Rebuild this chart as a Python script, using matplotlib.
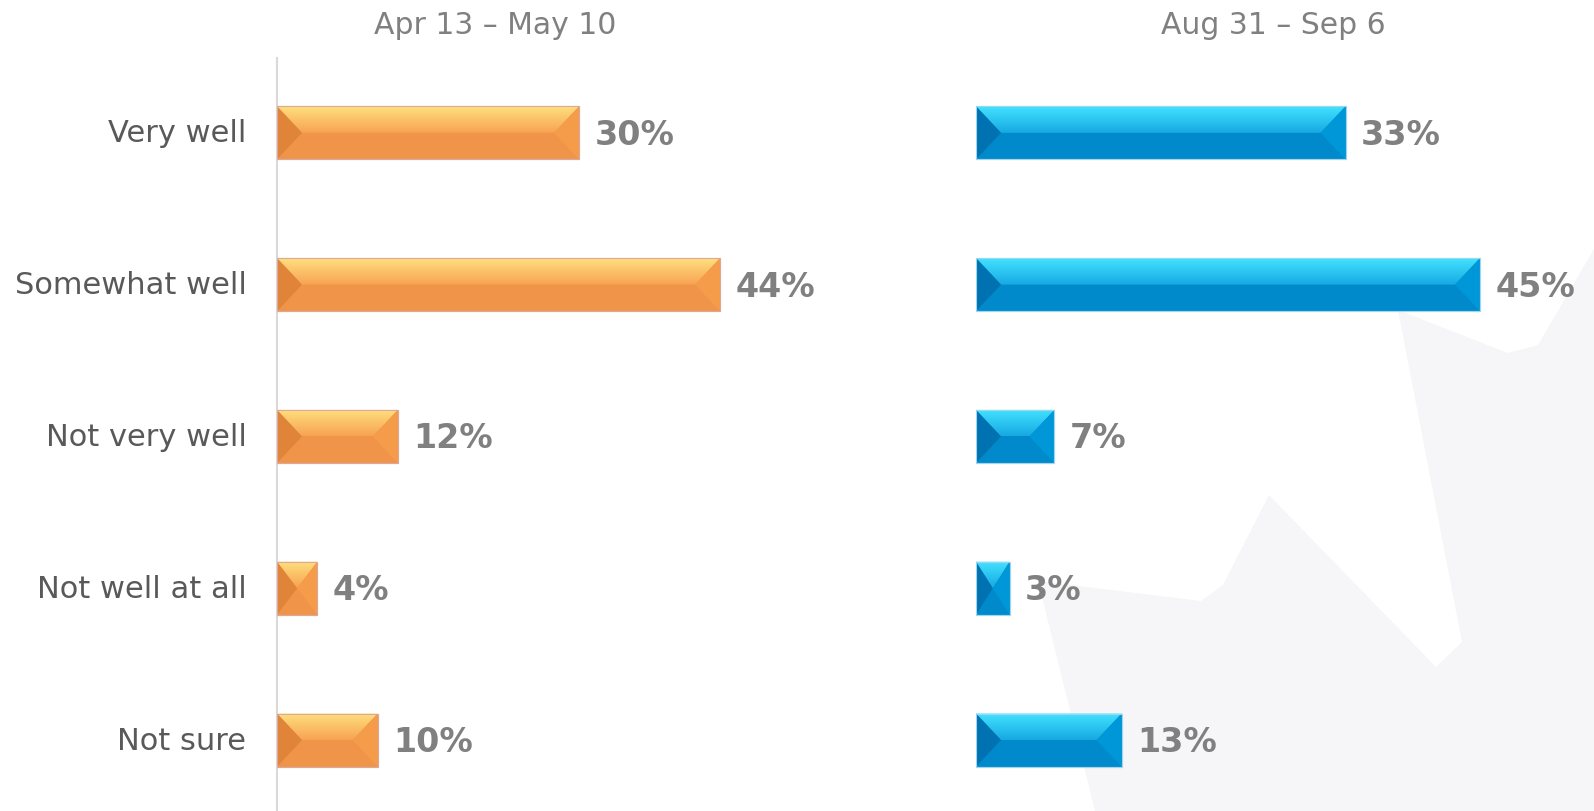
import matplotlib.pyplot as plt
import matplotlib.transforms as mtransforms
import numpy as np
from matplotlib.patches import Polygon
from matplotlib.colors import LinearSegmentedColormap

plt.rcParams['font.family'] = ['DejaVu Sans']

categories = ['Very well', 'Somewhat well', 'Not very well', 'Not well at all', 'Not sure']
apr_may = [30, 44, 12, 4, 10]
aug_sep = [33, 45, 7, 3, 13]
period_titles = ['Apr 13 – May 10', 'Aug 31 – Sep 6']

# bevel colours: base, top-light, top-mid, left face, right face, edge
orange = dict(base='#f0944a', top='#ffe07e', mid='#f7a352', left='#e0843a', right='#f59c4a', edge='#dca89a')
blue = dict(base='#008acc', top='#42e2ff', mid='#17a9e2', left='#0072b2', right='#0097d8', edge='#9fd6ee')

W, H = 1594, 812
fig = plt.figure(figsize=(W / 100, H / 100), dpi=100)

# faint maple leaf in the background
leaf = [(1594, 250), (1538, 346), (1508, 354), (1398, 311), (1462, 643), (1436, 668),
        (1269, 496), (1223, 586), (1201, 602), (1038, 582), (1095, 812), (1594, 812)]
fig.patches.append(Polygon([(x / W, 1 - y / H) for x, y in leaf], closed=True,
                           transform=fig.transFigure, facecolor='#f6f6f8',
                           edgecolor='none', zorder=-10))

ylim = (4.467, -0.493)
bar_h = 0.35
# axes: left px, px per percent
panels = [(277, 10.07, apr_may, orange, True), (976, 11.2, aug_sep, blue, False)]

for k, (x_px, ppx, values, col, show_labels) in enumerate(panels):
    xmax = 50
    ax = fig.add_axes([x_px / W, 0, xmax * ppx / W, (H - 59) / H])
    ax.set_facecolor('none')
    bars = ax.barh(range(len(categories)), values, height=bar_h, color=col['base'],
                   edgecolor=col['edge'], linewidth=0.8, zorder=2)
    cmap = LinearSegmentedColormap.from_list('g', [col['top'], col['mid']])
    grad = np.linspace(0, 1, 64).reshape(-1, 1)
    for bar in bars:
        x0, w = bar.get_x(), bar.get_width()
        x1 = x0 + w
        yt, hh = bar.get_y(), bar.get_height()
        yb = yt + hh
        ym = yt + hh / 2
        bx = min(25 / ppx, w / 2)
        top = Polygon([(x0, yt), (x1, yt), (x1 - bx, ym), (x0 + bx, ym)], closed=True,
                      facecolor='none', edgecolor='none')
        ax.add_patch(top)
        im = ax.imshow(grad, cmap=cmap, extent=(x0, x1, ym, yt), origin='upper',
                       aspect='auto', zorder=3)
        im.set_clip_path(top)
        ax.add_patch(Polygon([(x0, yt), (x0 + bx, ym), (x0, yb)], closed=True,
                             facecolor=col['left'], edgecolor='none', zorder=4))
        ax.add_patch(Polygon([(x1, yt), (x1 - bx, ym), (x1, yb)], closed=True,
                             facecolor=col['right'], edgecolor='none', zorder=4))
        ax.add_patch(Polygon([(x0, yt), (x1, yt), (x1, yb), (x0, yb)], closed=True,
                             facecolor='none', edgecolor=col['edge'], linewidth=0.8, zorder=5))
    for i, v in enumerate(values):
        ax.annotate(f'{v}%', (v, i), xytext=(11, -1), textcoords='offset points',
                    ha='left', va='center', fontsize=24, fontweight='bold', color='#808080')
    ax.set_xlim(0, xmax)
    ax.set_ylim(*ylim)
    ax.set_xticks([])
    for s in ['top', 'right', 'bottom']:
        ax.spines[s].set_visible(False)
    if show_labels:
        ax.spines['left'].set_color('#d9d9d9')
        ax.spines['left'].set_linewidth(1.5)
        ax.set_yticks(range(len(categories)))
        ax.set_yticklabels(categories, fontsize=22, color='#595959')
        ax.tick_params(axis='y', length=0, pad=22)
        shift = mtransforms.ScaledTranslation(0, 3 / 100, fig.dpi_scale_trans)
        for lab in ax.get_yticklabels():
            lab.set_transform(lab.get_transform() + shift)
    else:
        ax.spines['left'].set_visible(False)
        ax.set_yticks([])

fig.text(495 / W, 1 - 26 / H, period_titles[0], ha='center', va='center', fontsize=21.5, color='#808080')
fig.text(1273 / W, 1 - 26 / H, period_titles[1], ha='center', va='center', fontsize=21.5, color='#808080')

fig.savefig('out.png', dpi=100)
